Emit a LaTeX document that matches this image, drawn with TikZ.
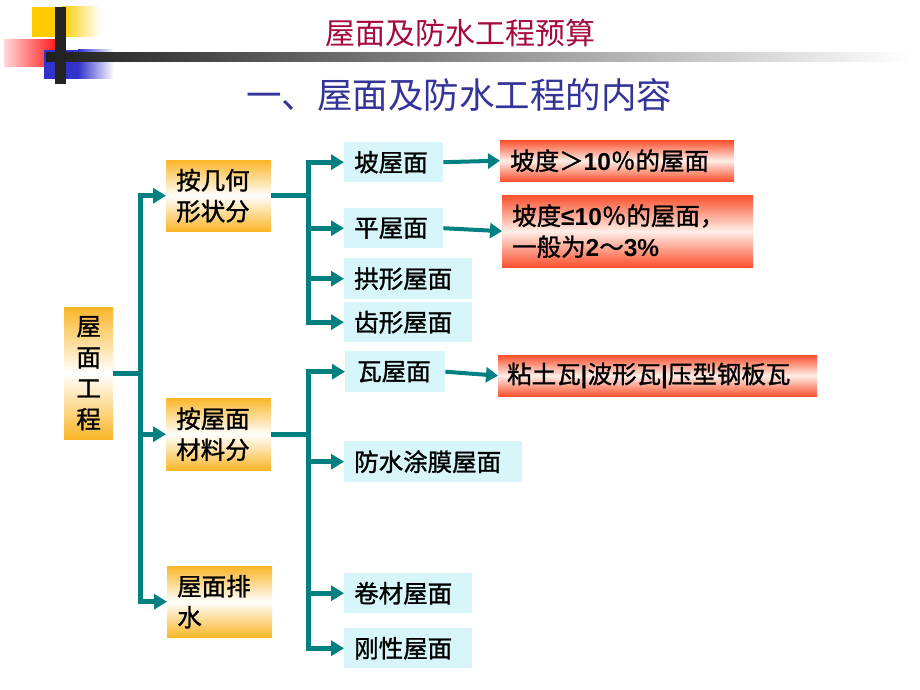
\documentclass[tikz,border=0pt]{standalone}
\usepackage{fontspec}
\setmainfont{Noto Sans CJK SC}
\newfontfamily\cjkb{Noto Sans CJK SC}[FakeBold=1.2]
\newfontfamily\arial{Liberation Sans}
\usetikzlibrary{arrows.meta}
\definecolor{teal1}{RGB}{0,128,128}
\definecolor{orng}{RGB}{250,182,40}
\definecolor{cyb}{RGB}{214,246,250}
\definecolor{redb}{RGB}{250,80,45}
\definecolor{redm}{RGB}{255,238,232}
\definecolor{crim}{RGB}{165,10,60}
\definecolor{navy1}{RGB}{51,51,153}
\definecolor{yel}{RGB}{255,204,0}
\definecolor{blu}{RGB}{51,51,204}
\definecolor{pinkl}{RGB}{255,215,215}
\definecolor{redd}{RGB}{255,30,30}
\definecolor{blk}{RGB}{35,35,35}
\newcommand\boxfnt{\cjkb\fontsize{24.5}{31}\selectfont}
\newcommand\lat[1]{{\arial\bfseries #1}}
\begin{document}
\begin{tikzpicture}[x=1pt,y=-1pt,
 conn/.style={draw=teal1, line width=5pt},
 arr/.style={draw=teal1, line width=5pt, -{Triangle[length=13pt,width=15pt]}},
 sarr/.style={draw=teal1, line width=4pt, -{Triangle[length=12pt,width=15pt]}},
 obox/.style={top color=orng, bottom color=orng, middle color=white, inner xsep=10pt, inner ysep=0pt, align=left, font=\boxfnt, anchor=north west},
 cbox/.style={fill=cyb, inner xsep=10pt, inner ysep=0pt, minimum height=40pt, align=left, font=\boxfnt, anchor=north west},
 rbox/.style={top color=redb, bottom color=redb, middle color=redm, inner xsep=10pt, inner ysep=0pt, align=left, font=\boxfnt, anchor=north west},
]
\useasboundingbox[fill=white] (0,0) rectangle (920,690);
% decoration
\fill[yel] (32,7) rectangle (62,37);
\shade[left color=yel, right color=white] (62,7) rectangle (100,37);
\shade[left color=pinkl, right color=redd] (4,40) rectangle (55,67);
\fill[blu] (44,50) rectangle (78,79);
\shade[left color=blu, right color=white] (78,50) rectangle (114,79);
\shade[left color=black!88, right color=white] (46,53) rectangle (910,62);
\fill[blk] (55,7) rectangle (66,84);
% titles
\node[text=crim, font=\fontsize{30}{30}\selectfont, inner sep=0pt] (title) at (460,33) {屋面及防水工程预算};
\node[text=navy1, font=\fontsize{35.5}{36}\selectfont, inner sep=0pt] (sub) at (459,95) {一、屋面及防水工程的内容};
% boxes
\node[obox, text width=29pt, align=center, minimum height=132pt] (root) at (64,307) {屋\\面\\工\\程};
\node[obox, text width=85pt, minimum height=71pt] (g1) at (166,160) {按几何\\形状分};
\node[obox, text width=85pt, minimum height=72pt] (g2) at (166,398) {按屋面\\材料分};
\node[obox, text width=85pt, minimum height=71pt] (g3) at (167,566) {屋面排\\水};
\node[cbox, text width=79pt] (c1) at (344,142) {坡屋面};
\node[cbox, text width=79pt] (c2) at (344,208) {平屋面};
\node[cbox, text width=108pt, minimum height=41pt] (c3) at (344,258) {拱形屋面};
\node[cbox, text width=108pt] (c4) at (344,302) {齿形屋面};
\node[cbox, inner xsep=12pt, text width=76pt, minimum height=41pt] (c5) at (345,351) {瓦屋面};
\node[cbox, text width=158pt, minimum height=41pt] (c6) at (344,441) {防水涂膜屋面};
\node[cbox, text width=108pt] (c7) at (344,573) {卷材屋面};
\node[cbox, text width=108pt] (c8) at (344,628) {刚性屋面};
\node[rbox, text width=214pt, minimum height=41pt] (r1) at (500,140) {坡度＞\lat{10}％的屋面};
\node[rbox, text width=231pt, minimum height=72pt] (r2) at (502,195) {坡度\lat{≤10}％的屋面，\\一般为\lat{2}～\lat{3\%}};
\node[rbox, inner xsep=9pt, text width=301pt, minimum height=41pt] (r3) at (498,355) {粘土瓦\lat{|}波形瓦\lat{|}压型钢板瓦};
% connectors
\coordinate (t1) at (140,0);
\coordinate (t2) at (308,0);
\draw[conn] (root.east) -- (root.east -| t1);
\draw[conn, line cap=rect] (t1 |- g1.west) -- (t1 |- g3.west);
\foreach \n in {g1,g2,g3} \draw[arr] (t1 |- \n.west) -- (\n.west);
\draw[conn] (g1.east) -- (g1.east -| t2);
\draw[conn, line cap=rect] (t2 |- c1.west) -- (t2 |- c4.west);
\foreach \n in {c1,c2,c3,c4} \draw[arr] (t2 |- \n.west) -- (\n.west);
\draw[conn] (g2.east) -- (g2.east -| t2);
\draw[conn, line cap=rect] (t2 |- c5.west) -- (t2 |- c8.west);
\foreach \n in {c5,c6,c7,c8} \draw[arr] (t2 |- \n.west) -- (\n.west);
\draw[sarr] (c1.east) -- (r1.west);
\draw[sarr] (c2.east) -- (r2.west);
\draw[sarr] (c5.east) -- (r3.west);
\end{tikzpicture}
\end{document}
